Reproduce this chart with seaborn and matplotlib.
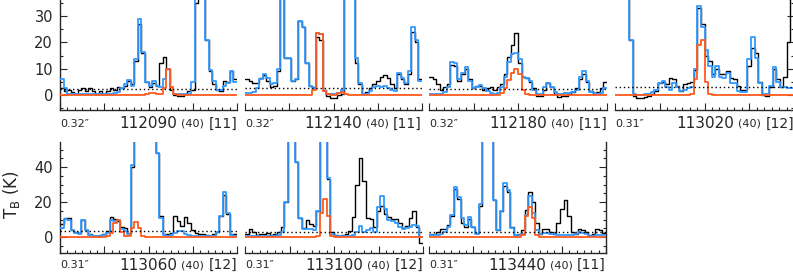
import numpy as np
import matplotlib
matplotlib.use("Agg")
import matplotlib.pyplot as plt
from matplotlib.ticker import MultipleLocator
import seaborn as sns

# ------------------------------------------------------------
# datos: 7 ventanas espectrales de 40 MHz (canales de 0.8 MHz)
# ------------------------------------------------------------
freqs = ["112090", "112140", "112180", "113020", "113060", "113100", "113440"]
beams = ["0.32\u2033", "0.32\u2033", "0.32\u2033", "0.31\u2033", "0.31\u2033", "0.31\u2033", "0.31\u2033"]
widths = ["(40)"] * 7
nlines = ["[11]", "[11]", "[11]", "[12]", "[12]", "[12]", "[11]"]
rms3 = [2.3, 2.6, 2.3, 3.1, 3.2, 2.9, 2.9]

p1_obs = [2.5, 1.5, 2, 1, 0.5, 2, 2.5, 1.5, 2.5, 1.5,
          0.5, 1.5, 0.5, 1.5, 2.5, 2, 3, 2.5, 3.5, 5.5,
          4, 13, 27, 16, 5, 3, 4.5, 3.5, 12, 14.5,
          10, 2, 0, -0.5, -0.5, 0.5, 1.5, 2, 35, 60,
          60, 21, 9, 4, 2, 1.5, 5.5, 5, 9, 6]
p1_mod = [6, 2.5, 0.5, 0.3, 0.3, 0.2, 0.2, 0.2, 0.2, 0.3,
          0.3, 0.4, 0.5, 0.5, 0.5, 0.8, 1.2, 2.5, 4, 5.8,
          3.5, 13.5, 29, 16.5, 5, 3.5, 5.5, 3.5, 3, 6,
          10, 3, 0.5, 0.3, 0.2, 0.3, 0.5, 5, 60, 60,
          60, 21, 9.5, 5.5, 2, 2, 3.5, 4.5, 9, 5]
p1_spc = [0, 0, 0, 0, 0, 0, 0, 0, 0, 0,
          0, 0, 0, 0, 0, 0, 0, 0, 0, 0,
          0, 0, 0, 0, 0.3, 0.9, 0.8, 0.3, 0.5, 2.5,
          10, 3, 0.3, 0, 0, 0, 0, 0, 0, 0,
          0, 0, 0, 0, 0, 0, 0, 0, 0, 0]

p2_obs = [6, 5.5, 4.5, 4.5, 6.5, 7.5, 5.5, 3, 3.5, 9,
          60, 14, 14, 5.5, 6, 28, 26, 12, 3.5, 3,
          22, 21, 2, -0.5, -1, -1, 0, 0.5, 60, 60,
          60, 12, 4, 0.5, 1, 2.5, 4, 5.5, 7, 7.5,
          6.5, 4, 2.5, 8, 6, 4, 8, 24, 20, 6]
p2_mod = [0.8, 0.6, 1, 2.5, 6, 8, 6.5, 4, 4.5, 10,
          60, 14, 14, 5.5, 6, 28, 26, 12, 3.5, 2.5,
          23.5, 23, 1.5, 0.5, 0.2, 0.5, 0.8, 2, 60, 60,
          60, 14, 4.5, 0.5, 0.5, 1.5, 3, 3.5, 3, 3.5,
          2.5, 2, 1.5, 8.5, 6.5, 4.5, 9, 26, 21, 5.5]
p2_spc = [0, 0, 0, 0, 0, 0, 0, 0, 0, 0,
          0, 0, 0, 0, 0, 0, 0, 0, 0, 2,
          23.5, 23, 1.5, 0.3, 0, 0, 0.8, 1.2, 0.5, 0,
          0, 0, 0, 0, 0, 0, 0, 0, 0, 0,
          0, 0, 0, 0, 0, 0, 0, 0, 0, 0]

p3_obs = [7, 6, 4, 2, 3, 4, 11.5, 11, 5.5, 8,
          10, 6, 2.5, 3.5, 3.5, 2, 2.5, 3, 2, 3,
          4, 8, 14.5, 19, 23.5, 12, 7, 6.5, 5, 2.5,
          -0.5, -0.5, 2, 4.5, 3, 0.5, -0.8, -0.5, -0.2, 0.5,
          1, 2.5, 6, 8, 5, 1.5, 0.5, 1, 2.5, 5]
p3_mod = [0.2, 0.2, 0.2, 0.3, 1, 3, 12.5, 12, 6, 8.5,
          10.5, 5.5, 2.5, 3, 3.8, 2.5, 1.5, 0.8, 0.5, 0.6,
          3, 7, 12.5, 15.5, 16, 13.5, 7, 6.5, 5.5, 2,
          0.5, 0.5, 3, 4.5, 3, 1, 0.5, 0.5, 0.6, 0.8,
          1, 2, 7, 9, 5.5, 1, 0.6, 0.5, 0.6, 2.5]
p3_spc = [0, 0, 0, 0, 0, 0, 0, 0, 0, 0,
          0, 0, 0, 0, 0, 0, 0, 0, 0, 0,
          0.8, 2.5, 5.8, 8.3, 9.8, 8, 2, 0.4, 0, 0,
          0, 0, 0, 0, 0, 0, 0, 0, 0, 0,
          0, 0, 0, 0, 0, 0, 0, 0, 0, 0]

p4_obs = [60, 60, 60, 60, 21, -0.5, -1, -1, -0.8, -0.5,
          0.5, 1.5, 4.5, 5, 4, 6.5, 6, 3.5, 1.5, 4,
          4.5, 5, 9.5, 33, 27, 15, 13, 8, 10, 8,
          8, 9, 6.5, 6, 3.5, 2, 2, 11, 18, 16,
          5, 0, -0.5, 3, 10, 6, 3, 7, 20, 60]
p4_mod = [60, 60, 60, 60, 21, 0.3, 0, 0, 0.2, 0.5,
          1, 2, 4.5, 5.5, 3, 2, 4.5, 3, 1.5, 2,
          2.5, 3, 10, 34, 26, 17, 11, 7, 11, 7,
          6.5, 8.5, 4.5, 4.5, 1.5, 1, 1, 13.5, 22, 14,
          4.5, 0.5, 0.5, 3.5, 10.5, 5, 3, 3, 2.8, 2.5]
p4_spc = [0, 0, 0, 0, 0, 0, 0, 0, 0, 0,
          0, 0, 0, 0, 0, 0, 0, 0, 0, 0,
          0, 0.3, 6, 19, 21, 5, 0.5, 0, 0, 0,
          0, 0, 0, 0, 0, 0, 0, 0, 0, 0,
          0, 0, 0, 0, 0, 0, 0, 0, 0, 0]

p5_obs = [7.5, 11, 11, 4, 3, 2.5, 9.5, 4, 1.5, 0.8,
          0.5, 1, 2, 3.5, 11.5, 10.5, 9, 5.5, 5, 2.5,
          40, 60, 60, 60, 60, 60, 60, 48, 12, 1.5,
          2, 2.5, 12, 9, 6.5, 11.5, 8, 4, 2.5, 1.5,
          1.5, 1, 0.8, 1.5, 3, 12, 24, 13, 2, 1.5]
p5_mod = [5, 10.5, 10, 4, 2.5, 2, 9.5, 4, 1, 0.5,
          0.3, 0.5, 1, 2.5, 9.5, 9, 9.5, 4.5, 3.5, 1.5,
          41, 60, 60, 60, 60, 60, 60, 48, 11, 1,
          0.5, 1, 2.5, 3.5, 3.5, 2, 1, 0.5, 0.8, 0.5,
          0.5, 0.5, 0.5, 0.8, 3, 12, 25.5, 13.5, 1, 0.5]
p5_spc = [0, 0, 0, 0, 0, 0, 0, 0, 0, 0,
          0, 0, 0, 0.5, 2.5, 8, 9.5, 3, 0.5, 0.3,
          5, 8.6, 5, 0.5, 0, 0, 0, 0, 0, 0,
          0, 0, 0, 0, 0, 0, 0, 0, 0, 0,
          0, 0, 0, 0, 0, 0, 0, 0, 0, 0]

p6_obs = [2, 4.5, 3, 1, 2, 1.5, 2.5, 1, 2, 3,
          6, 20, 60, 60, 43, 11, 5, 9.5, 7.5, 6.5,
          15, 60, 60, 33, 3, 1, 0.5, 1, 1.5, 3.5,
          11.5, 30, 45, 32, 11, 10.5, 5.5, 15, 18, 13,
          11.5, 10.5, 10.5, 8, 5, 6.5, 11, 15, 5.5, -3.5]
p6_mod = [0.5, 0.5, 0.3, 0.3, 0.3, 0.3, 0.3, 0.3, 0.5, 1,
          3, 20, 60, 60, 43, 11, 4.5, 4.5, 4.5, 3.8,
          15, 60, 60, 34, 2, 0.5, 0.5, 0.5, 0.5, 0.5,
          1, 3, 6.5, 3, 4, 5, 3, 17, 23.5, 16,
          9.5, 9, 8, 6, 4.5, 5, 6, 7, 6.5, 0]
p6_spc = [0, 0, 0, 0, 0, 0, 0, 0, 0, 0,
          0, 0, 0, 0, 0, 0, 0, 0, 0, 0,
          0.5, 14, 22, 12, 0.5, 0, 0, 0, 0, 0,
          0, 0, 0, 0, 0, 0, 0, 0, 0, 0,
          0, 0, 0, 0, 0, 0, 0, 0, 0, 0]

p7_obs = [2, 1.5, 3, 4.5, 4.5, 7, 12, 27.5, 22, 8,
          6, 10.5, 6, 2.5, 18, 60, 60, 60, 21, 4,
          15, 29, 26, 6, 1, 1.5, 4, 15.5, 25.5, 20,
          8, 2, 4.5, 4.5, 3, 2, 8, 16, 21, 12,
          3, 2, 4.5, 4, 3, 1, 2, 4.5, 4, 2.5]
p7_mod = [1, 1, 1, 2, 3, 6, 12.5, 28.5, 23, 11,
          7, 11.5, 5.5, 2, 19, 60, 60, 60, 21, 4,
          15, 31, 27, 5, 1, 1, 2, 12.5, 23.5, 14,
          4, 1.5, 2.5, 2.5, 2, 1.5, 1, 1, 1, 1,
          1, 1.5, 3, 2.5, 2, 0.5, 0.5, 1, 1, 1]
p7_spc = [0, 0, 0, 0, 0, 0, 0, 0, 0, 0,
          0, 0, 0, 0, 0, 0, 0, 0, 0, 0,
          0, 0, 0, 0, 0, 0, 1, 12, 17, 11,
          1, 0, 0, 0, 0, 0, 0, 0, 0, 0,
          0, 0, 0, 0, 0, 0, 0, 0, 0, 0]

obs_all = [p1_obs, p2_obs, p3_obs, p4_obs, p5_obs, p6_obs, p7_obs]
mod_all = [p1_mod, p2_mod, p3_mod, p4_mod, p5_mod, p6_mod, p7_mod]
spc_all = [p1_spc, p2_spc, p3_spc, p4_spc, p5_spc, p6_spc, p7_spc]

# ------------------------------------------------------------
# estilo y disposicion (en pixeles de la imagen 793x274)
# ------------------------------------------------------------
sns.set_style("ticks")
plt.rcParams['font.family'] = ['DejaVu Sans']

W, H = 793, 274
AZUL = "#3399ff"
ROJO = "#ff5a1e"

# (izq, der) de cada panel y fila
cajas = [(60, 237, 0), (245, 422, 0), (429, 607, 0), (615, 794, 0),
         (60, 237, 1), (245, 423, 1), (429, 606, 1)]
# fila: (y_abajo_px, y_arriba_px, ymin, ymax, y_texto_px, paso_mayor)
filas = [(110, -5, -5.7, 38.0, 124, 10),
         (253, 142, -9.14, 54.3, 265, 20)]

fig = plt.figure(figsize=(W / 100, H / 100), dpi=100)

for k in range(7):
    x0, x1, fila = cajas[k]
    yb, yt, ymin, ymax, ytxt, paso = filas[fila]
    ax = fig.add_axes([x0 / W, 1 - yb / H, (x1 - x0) / W, (yb - yt) / H])
    ax.set_facecolor('none')

    x = np.linspace(-20, 20, len(obs_all[k]) + 1)
    for vals, col, lw, z in [(obs_all[k], 'black', 1.0, 2),
                             (mod_all[k], AZUL, 1.3, 3),
                             (spc_all[k], ROJO, 1.3, 4)]:
        y = np.append(vals, vals[-1])
        sns.lineplot(x=x, y=y, drawstyle='steps-post', color=col, lw=lw,
                     ax=ax, zorder=z, estimator=None, sort=False)
    ax.axhline(rms3[k], color='black', ls=(0, (1, 2)), lw=1.0, zorder=5)

    ax.set_xlim(-20, 20)
    ax.set_ylim(ymin, ymax)
    ax.set_xlabel('')
    ax.set_ylabel('')

    primero = k in (0, 4)
    ultimo = k in (3, 6)
    ax.spines['top'].set_visible(False)
    ax.spines['left'].set_visible(primero)
    ax.spines['right'].set_visible(ultimo)
    for s in ax.spines.values():
        s.set_linewidth(1.0)

    ax.xaxis.set_major_locator(MultipleLocator(10))
    ax.xaxis.set_minor_locator(MultipleLocator(10 / 6))
    ax.yaxis.set_major_locator(MultipleLocator(paso))
    ax.yaxis.set_minor_locator(MultipleLocator(5))
    ax.tick_params(axis='x', which='both', direction='in', top=False,
                   bottom=True, labelbottom=False, width=0.8)
    ax.tick_params(axis='x', which='major', length=5)
    ax.tick_params(axis='x', which='minor', length=2.5)
    ax.tick_params(axis='y', which='both', direction='in', left=primero,
                   right=ultimo, labelleft=primero, labelright=False,
                   width=0.8, labelsize=10.5, pad=5)
    ax.tick_params(axis='y', which='major', length=5)
    ax.tick_params(axis='y', which='minor', length=2.5)

    # rotulos bajo cada panel
    yt_f = 1 - ytxt / H
    fig.text(x0 / W, yt_f, beams[k], fontsize=8, ha='left', va='center')
    fig.text((x1 - 60) / W, yt_f, freqs[k], fontsize=11, ha='right', va='center')
    fig.text((x1 - 33) / W, yt_f, widths[k], fontsize=8, ha='right', va='center')
    fig.text(x1 / W, yt_f, nlines[k], fontsize=10, ha='right', va='center')

fig.text(12 / W, 1 - 195 / H, r'T$_\mathrm{B}$ (K)', rotation=90,
         fontsize=12, ha='center', va='center')

fig.savefig("out.png", dpi=100)
